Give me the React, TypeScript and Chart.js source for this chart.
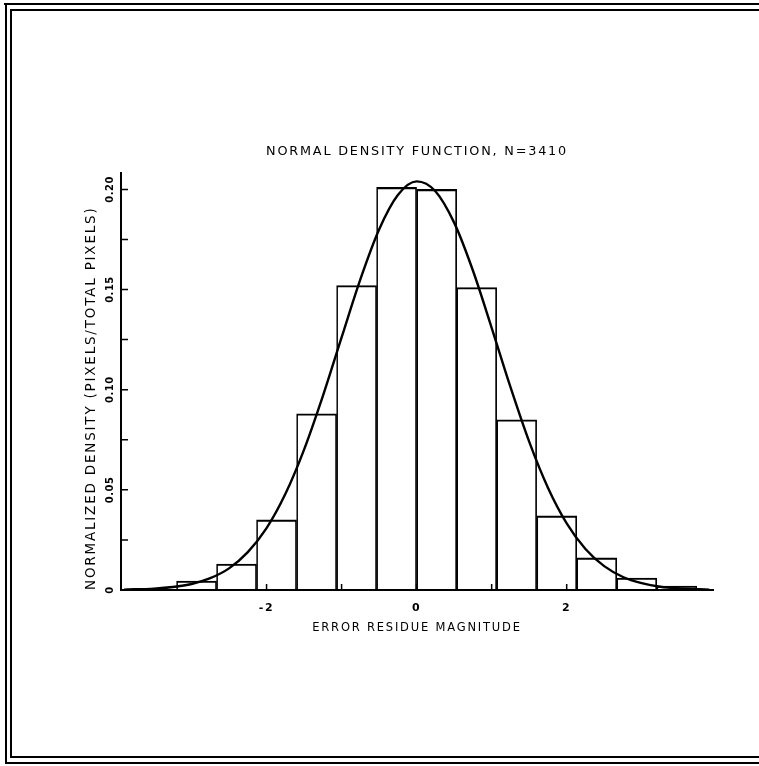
import React, { useEffect, useRef } from "react";
import { Chart, registerables } from "chart.js";

Chart.register(...registerables);

const FONT = "'DejaVu Sans', 'Liberation Sans', sans-serif";

const TITLE = "NORMAL DENSITY FUNCTION, N=3410";
const X_TITLE = "ERROR RESIDUE MAGNITUDE";
const Y_TITLE = "NORMALIZED DENSITY (PIXELS/TOTAL PIXELS)";

// histogram bins (centres) and normalized density per bin
const BIN_CENTERS = [-2.933, -2.4, -1.867, -1.333, -0.8, -0.267, 0.267, 0.8, 1.333, 1.867, 2.4, 2.933, 3.467];
const BIN_DENSITY = [0.0045, 0.013, 0.035, 0.088, 0.152, 0.201, 0.2, 0.151, 0.085, 0.037, 0.016, 0.006, 0.002];

// fitted normal curve
const CURVE_X = [-3.9, -3.5, -3.25, -3.0, -2.75, -2.5, -2.25, -2.0, -1.75, -1.5, -1.25, -1.0, -0.75, -0.5, -0.25, 0, 0.25, 0.5, 0.75, 1.0, 1.25, 1.5, 1.75, 2.0, 2.25, 2.5, 2.75, 3.0, 3.25, 3.5, 3.9];
const CURVE_Y = [0.0002, 0.0007, 0.0015, 0.003, 0.0059, 0.0108, 0.0189, 0.0309, 0.0479, 0.0701, 0.0968, 0.1261, 0.1551, 0.18, 0.1972, 0.204, 0.1991, 0.1834, 0.1595, 0.1309, 0.1014, 0.0741, 0.0511, 0.0333, 0.0205, 0.0119, 0.0065, 0.0034, 0.0016, 0.0008, 0.0002];

const X_TICK_VALUES = [-2, 0, 2];
const X_TICK_LABELS = ["-2", "0", "2"];
const X_TICK_MARKS = [-2, -1, 0, 1, 2];
const Y_TICK_VALUES = [0, 0.05, 0.1, 0.15, 0.2];
const Y_TICK_LABELS = ["0", "0.05", "0.10", "0.15", "0.20"];
const Y_TICK_MARKS = [0.025, 0.05, 0.075, 0.1, 0.125, 0.15, 0.175, 0.2];

const X_MIN = -3.94;
const X_MAX = 3.95;
const Y_MIN = 0;
const Y_MAX = 0.208;

const spacingPlugin = {
  id: "letterSpacing",
  beforeDraw(chart: any) {
    (chart.ctx as any).letterSpacing = "1.8px";
  },
};

const ticksPlugin = {
  id: "inwardTicks",
  afterDraw(chart: any) {
    const ctx = chart.ctx;
    const xs = chart.scales.x;
    const ys = chart.scales.y;
    ctx.save();
    ctx.strokeStyle = "#000";
    ctx.lineWidth = 1.5;
    ctx.beginPath();
    Y_TICK_MARKS.forEach((v) => {
      const y = ys.getPixelForValue(v);
      ctx.moveTo(xs.left, y);
      ctx.lineTo(xs.left + 7, y);
    });
    X_TICK_MARKS.forEach((v) => {
      const x = xs.getPixelForValue(v);
      ctx.moveTo(x, ys.bottom);
      ctx.lineTo(x, ys.bottom - 6);
    });
    ctx.stroke();
    (ctx as any).letterSpacing = "0.5px";
    ctx.fillStyle = "#000";
    ctx.font = "bold 10px " + FONT;
    ctx.textAlign = "center";
    ctx.textBaseline = "middle";
    Y_TICK_VALUES.forEach((v, i) => {
      const y = ys.getPixelForValue(v);
      ctx.save();
      ctx.translate(ys.right - 11, y);
      ctx.rotate(-Math.PI / 2);
      ctx.fillText(Y_TICK_LABELS[i], 0, 0);
      ctx.restore();
    });
    ctx.restore();
  },
};

export default function App() {
  const ref = useRef<HTMLCanvasElement | null>(null);

  useEffect(() => {
    if (!ref.current) return;
    const chart = new Chart(ref.current, {
      type: "bar",
      data: {
        datasets: [
          {
            type: "line",
            data: CURVE_X.map((x, i) => ({ x, y: CURVE_Y[i] })),
            borderColor: "#000",
            borderWidth: 2.4,
            pointRadius: 0,
            tension: 0.4,
            cubicInterpolationMode: "monotone",
            fill: false,
            order: 0,
          } as any,
          {
            type: "bar",
            data: BIN_CENTERS.map((x, i) => ({ x, y: BIN_DENSITY[i] })),
            backgroundColor: "rgba(0,0,0,0)",
            borderColor: "#000",
            borderWidth: { top: 1.5, right: 1, bottom: 0, left: 1 },
            borderSkipped: false,
            barPercentage: 1,
            categoryPercentage: 1,
            order: 1,
          } as any,
        ],
      },
      options: {
        responsive: false,
        animation: false,
        layout: { padding: { left: 0, right: 46, top: 0, bottom: 0 } },
        plugins: {
          legend: { display: false },
          tooltip: { enabled: false },
          title: {
            display: true,
            text: TITLE,
            fullSize: false,
            color: "#000",
            font: { size: 12.8, weight: "normal", family: FONT },
            padding: { top: 144, bottom: 14 },
          },
        },
        scales: {
          x: {
            type: "linear",
            min: X_MIN,
            max: X_MAX,
            offset: false,
            grid: { display: false, drawTicks: false },
            border: { display: true, color: "#000", width: 2 },
            afterBuildTicks: (s: any) => {
              s.ticks = X_TICK_VALUES.map((v) => ({ value: v }));
            },
            ticks: {
              callback: (v: any) => {
                const i = X_TICK_VALUES.indexOf(Number(v));
                return i >= 0 ? X_TICK_LABELS[i] : "";
              },
              color: "#000",
              font: { size: 11, weight: "bold", family: FONT },
              padding: 12,
              autoSkip: false,
              maxRotation: 0,
              minRotation: 0,
            },
            title: {
              display: true,
              text: X_TITLE,
              color: "#000",
              font: { size: 11.5, weight: "normal", family: FONT },
              padding: { top: 0, bottom: 131 },
            },
            afterFit: (s: any) => {
              s.height = 176;
            },
          } as any,
          y: {
            type: "linear",
            min: Y_MIN,
            max: Y_MAX,
            grid: { display: false, drawTicks: false },
            border: { display: true, color: "#000", width: 2 },
            ticks: { display: false },
            title: {
              display: true,
              text: Y_TITLE,
              align: "start",
              color: "#000",
              font: { size: 13.5, weight: "normal", family: FONT },
              padding: { top: 83, bottom: 0 },
            },
            afterFit: (s: any) => {
              s.width = 121;
            },
          } as any,
        },
      } as any,
      plugins: [spacingPlugin, ticksPlugin],
    });
    return () => chart.destroy();
  }, []);

  const line = (l: number, t: number, w: number, h: number) => (
    <div style={{ position: "absolute", left: l, top: t, width: w, height: h, background: "#000" }} />
  );

  return (
    <div style={{ position: "fixed", left: 0, top: 0, width: 759, height: 766, background: "#fff", overflow: "hidden" }}>
      {line(4, 3, 755, 2)}
      {line(5, 3, 2, 761)}
      {line(5, 762, 754, 2)}
      {line(10, 9, 749, 2)}
      {line(10, 9, 2, 749)}
      {line(10, 756, 749, 2)}
      <canvas ref={ref} width={759} height={766} style={{ position: "absolute", left: 0, top: 0, width: 759, height: 766 }} />
    </div>
  );
}
